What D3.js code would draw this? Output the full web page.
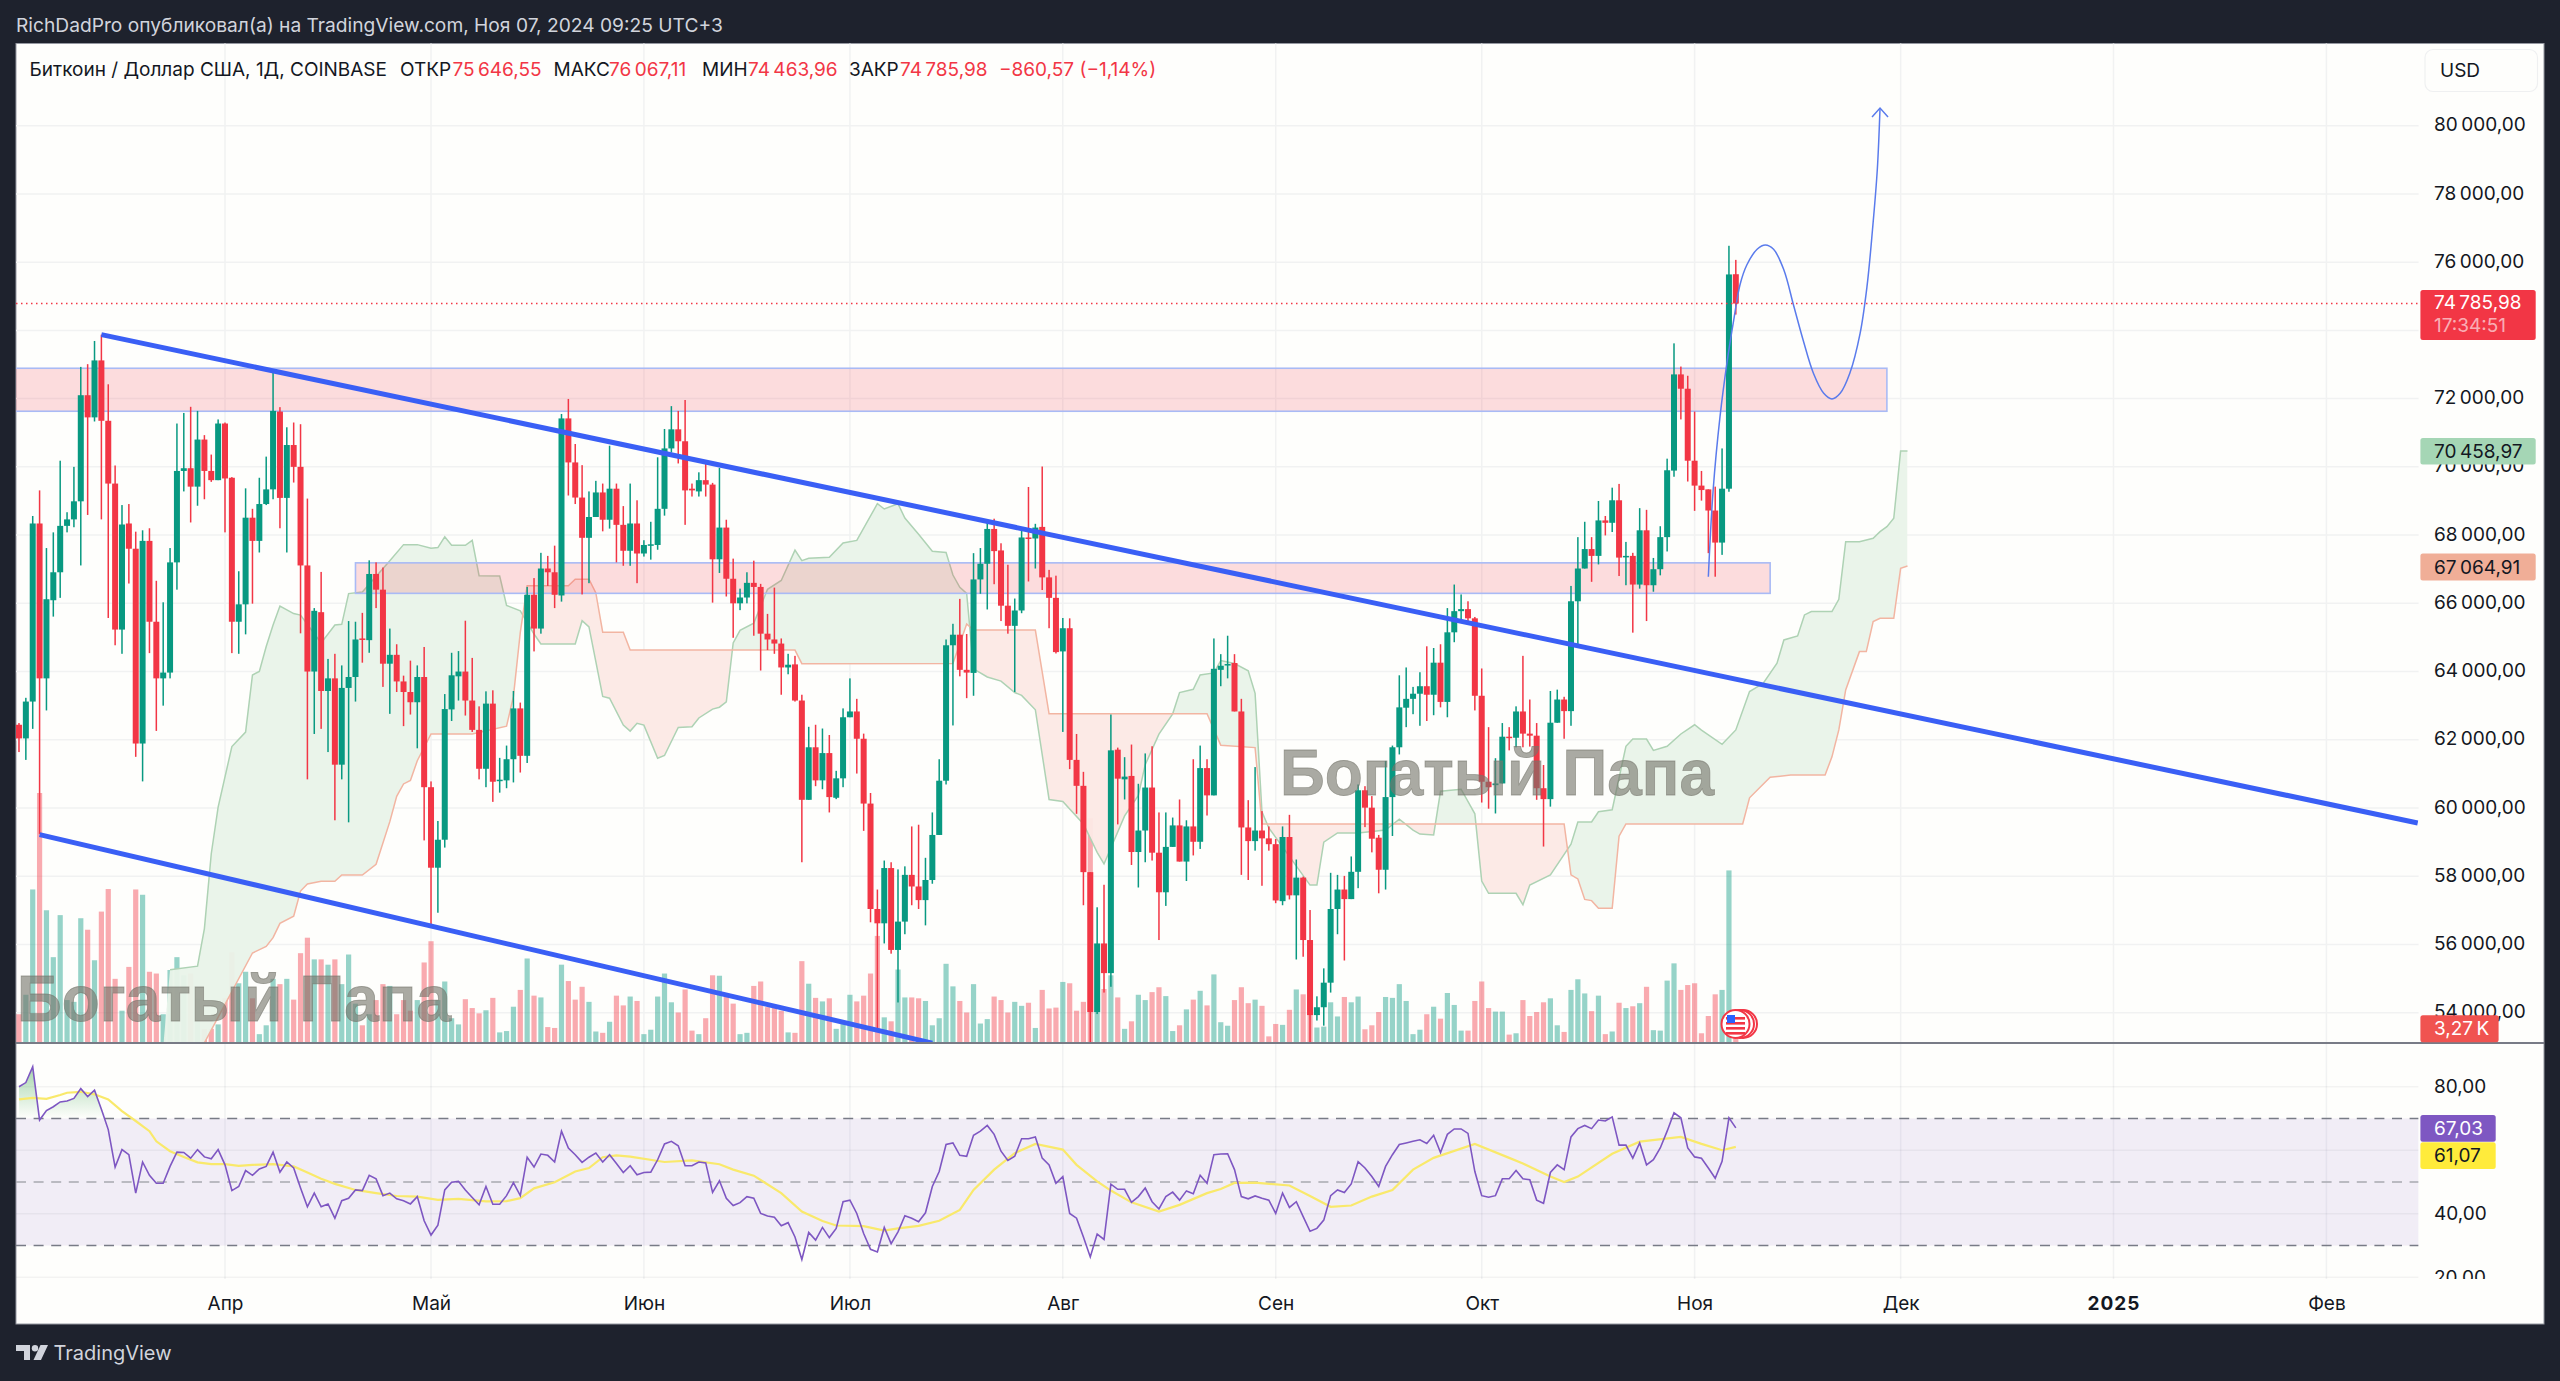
<!DOCTYPE html>
<html lang="ru">
<head>
<meta charset="utf-8">
<title>BTCUSD</title>
<script src="https://cdnjs.cloudflare.com/ajax/libs/d3/7.9.0/d3.min.js"></script>
<style>
  html, body { margin: 0; padding: 0; background: #1e222d; overflow: hidden; }
  svg { display: block; font-family: Inter, "Noto Sans", sans-serif; }
</style>
</head>
<body>
<div id="chart"></div>
<script>
// daily candles, first one is 2 Mar 2024, one value per day
const firstDay = Date.UTC(2024, 2, 2);
const opens = [
  62440,62040,63120,68340,63800,66090,66910,68270,68460,68990,
  72100,71450,73120,71350,69510,65230,68340,67600,61890,67830,
  65460,63800,63970,67200,69880,69960,69420,70800,69880,69610,
  71270,69680,65460,65970,68510,67830,68910,69340,71620,69090,
  70640,70000,67110,64000,65740,63430,63800,61270,63520,63840,
  64970,64920,66860,66400,64230,64490,63710,63400,63100,63840,
  60610,58250,59070,62890,63860,64000,63150,62290,61150,63060,
  60810,60810,61430,62920,61530,66250,65260,67020,66910,66230,
  71420,70130,69100,67920,68530,69250,68450,69360,68300,67540,
  68340,67460,67710,67710,68770,70540,71100,70750,69360,69280,
  69610,69480,67290,68220,66720,66000,66170,66600,66480,65110,
  64940,64820,64120,64210,63150,60240,61780,60810,61610,60300,
  60870,62660,62830,62030,60130,57040,56620,58240,55840,56670,
  58040,57700,57300,57890,59210,60800,64770,65080,64050,63960,
  66700,67160,68180,67550,65930,65340,65790,67930,67900,68240,
  66760,66160,64590,65270,61410,60650,58120,54020,56030,55160,
  61710,60840,60940,58710,59340,60600,58690,57530,58860,59490,
  58430,59460,59010,61170,60370,64050,64190,64250,62830,59430,
  59030,59340,59110,58940,57270,59150,57440,57960,56130,53930,
  54160,54880,57040,57610,57330,58130,60520,60010,59130,58190,
  60320,61780,62940,63200,63350,63570,63320,64260,63110,65150,
  65770,65830,65560,63290,60770,60670,60720,62090,62060,62830,
  62180,62120,60580,60260,62500,63180,62840,66060,67020,67590,
  67390,68430,68360,69020,67370,67390,66550,68140,66530,67000,
  67940,69890,72710,72290,70180,69450,69340,68720,67780,69360,
  75646.55
];
const highs = [
  62490,63230,68560,69310,67620,68080,70180,68670,70000,72930,
  73010,73690,73875,72420,70040,68880,68910,68100,68140,68200,
  66660,66030,67620,71270,71580,71760,71640,70930,70360,71390,
  71300,69700,66940,69370,68770,69680,70300,72760,71750,71160,
  71300,71250,69070,65860,66920,64370,64520,64180,65480,65460,
  65720,67260,67200,67050,65260,64800,63880,64320,64180,64720,
  60780,59620,63340,64550,64600,65490,64400,62980,63420,63450,
  61470,61830,63430,63090,66480,66740,67480,67390,67690,71550,
  71990,70670,70050,69280,69590,69510,70620,69510,68850,69510,
  69020,67850,68390,70280,71110,71780,71640,71960,69510,69840,
  70160,69530,69970,68450,67310,66430,66910,67250,66570,65690,
  66460,64970,64520,64460,63320,62380,62440,62330,62140,61090,
  62920,63800,63200,62180,60440,57610,58460,58410,58200,58290,
  59460,59510,58540,59870,61430,64940,65400,66130,65100,67470,
  67620,68390,68480,67760,67130,66140,68220,69410,68330,70010,
  66980,66810,65570,65560,62170,61060,58120,57090,57750,62740,
  61770,61490,61860,60710,61600,61810,59870,59870,59720,60250,
  59640,61430,61830,61430,64970,64510,65050,64510,63200,60230,
  61200,59910,59460,59090,59460,59800,58490,57990,57010,54480,
  55300,58100,58040,58010,58580,60690,60640,60350,59210,61380,
  61830,63890,64120,63550,63980,64740,64690,64800,65860,66550,
  66260,66060,65600,64090,62370,61460,62490,62370,62980,64460,
  63180,62490,61260,63430,63470,63260,66510,67940,68390,67940,
  69000,68560,69390,69500,67800,67480,68790,68740,67330,68260,
  70240,73620,72940,72670,71620,69880,69340,69420,70540,76480,
  76067.11
];
const lows = [
  61640,61410,62320,59240,62860,65610,66160,68080,68230,67110,
  68590,71330,68460,65570,64770,64520,66580,61500,60780,64540,
  62260,63000,63800,66400,69280,68370,68860,69050,69560,69610,
  68080,64540,64520,65090,65990,67490,68880,69050,68200,67490,
  69540,65120,60840,62170,62320,61640,59640,60840,59580,63120,
  64260,64550,65860,63550,62760,63400,62400,62740,61750,59050,
  56500,56930,58840,62550,63150,62710,62230,60840,60610,60180,
  60450,60580,60750,61040,61320,64590,65110,66510,65860,66050,
  69160,68910,66260,66590,68530,68110,68190,67200,67100,67100,
  66590,67370,67280,67570,68570,70420,70100,68300,69130,69130,
  69130,66020,66890,66200,64990,65800,66000,65050,64030,64630,
  64520,63320,63920,63120,58410,60240,60640,60550,59870,60260,
  60610,62660,61010,59330,56650,53500,56030,55730,54300,56300,
  57150,57040,56560,57780,59210,60690,62420,63860,63220,63290,
  66280,65820,66560,65480,65110,63400,65710,66640,67020,66390,
  65270,64530,62230,61140,59830,57150,53000,53960,54590,54760,
  59520,60250,58330,57670,58410,58460,56130,57130,58860,58430,
  57860,58610,58800,59780,60370,63570,63800,62830,58040,57890,
  58750,57720,58750,57210,57150,57320,55560,55640,52950,53770,
  53620,54590,56300,55530,57330,57650,59440,58700,57500,57610,
  59180,61570,62370,62750,62410,62550,62720,62950,62660,64860,
  65480,65430,62860,60160,59980,59840,60720,61690,61780,61780,
  61800,60240,58870,60040,62500,62030,62410,64800,67020,66630,
  67140,67990,68090,66800,66530,65140,66430,65480,66340,66820,
  67520,69710,71390,69570,68710,69010,67470,66780,67420,69270,
  74463.96
];
const closes = [
  62040,63120,68340,63800,66120,66910,68270,68460,68990,72100,
  71450,73120,71350,69510,65230,68310,67600,61890,67830,65460,
  63800,63970,67200,69880,69960,69420,70800,69880,69610,71270,
  69660,65460,65970,68510,67830,68910,69340,71640,69090,70640,
  70000,67110,64000,65780,63430,63800,61270,63520,63840,64940,
  64930,66860,66400,64230,64490,63710,63400,63100,63840,60610,
  58250,59070,62900,63890,64000,63150,62290,61150,63060,60770,
  60830,61430,62920,61530,66250,65260,67020,66910,66250,71420,
  70130,69100,67920,68530,69250,68450,69360,68300,67540,68340,
  67460,67710,67730,68770,70540,71100,70750,69310,69310,69610,
  69480,67290,68220,66720,66000,66170,66600,66480,65110,64940,
  64820,64120,64200,63150,60240,61780,60810,61610,60320,60870,
  62660,62830,62030,60130,57040,56620,58240,55840,56670,58040,
  57700,57300,57890,59210,60800,64770,65080,64050,63970,66700,
  67160,68180,67530,65930,65340,65790,67930,67900,68220,66760,
  66160,64570,65270,61410,60650,58120,54020,56030,55160,61690,
  60860,60920,58710,59340,60600,58690,57530,58860,59490,58430,
  59460,59010,61170,60370,64080,64170,64220,62830,59430,59030,
  59340,59110,58940,57290,59150,57440,57960,56130,53930,54160,
  54880,57040,57610,57330,58130,60520,60010,59100,58190,60320,
  61780,62950,63200,63350,63570,63320,64260,63110,65150,65770,
  65830,65560,63290,60770,60610,60720,62090,62060,62830,62180,
  62120,60580,60260,62500,63180,62840,66060,67020,67590,67390,
  68430,68360,69020,67340,67390,66550,68140,66530,67000,67940,
  69900,72710,72290,70180,69450,69320,68720,67780,69360,75640,
  74785.98
];
// volume, thousands of BTC
const volumes = [
  6.5,10.9,34.7,56.5,30,19.4,28.9,9.7,9.3,28.2,
  25.6,18.7,29.7,34.8,14.5,7.3,17.2,34.7,33.5,16.1,
  15.7,6.5,16.5,19.4,15.3,15.7,10.1,3.2,3.2,4.2,
  10.1,20.5,13.5,16.1,10.1,2,4,14.5,13.3,14.5,
  9.8,20.3,23.8,18.9,18.9,17.7,18.9,13.3,20,8.9,
  4,6.5,9.7,13.3,12.9,6.5,9.7,7.3,9.7,18.2,
  23,9.7,13.9,5.6,4.2,9.9,7.9,6.7,7.4,10.2,
  2.4,2.7,8.2,12,19.1,10.7,10.3,3.6,3.4,17.7,
  14,9.8,12.7,9.3,2.6,2.3,4.8,10.7,8.5,10.5,
  9.5,2,3,10.5,15.7,9.2,6.9,12.1,2.8,2,
  5.6,15.3,15.2,10.5,8.9,2,2.3,12.9,13.9,8.1,
  8.1,7.3,2.4,2.3,18.5,13.4,10.2,9.4,10.1,3.2,
  4.8,10.9,9.4,10.7,15.7,24.2,5.8,4.9,16.6,10.3,
  10.3,10.1,9.5,4,5.6,17.9,12.8,9.5,6.9,13.3,
  4.4,5.4,10.5,9.7,6.9,9.3,8.4,9.1,3.4,12,
  7.8,8,13.8,13.5,7.3,9.3,50.8,7.4,12.2,15.3,
  10.3,3.2,4.9,10.9,9.7,11.5,12.6,10.6,2.7,4,
  7.6,9.8,11.8,8.5,15.5,4.7,3.9,9.7,12.6,9,
  9.8,8.4,1.5,4.3,4.1,7.5,12.1,11,10.5,3.5,
  3.7,9.2,6,10.4,9.2,10.5,3.1,4,7,10.4,
  10.2,13.3,9.5,2,3,6.5,8.2,5.5,11.3,8.6,
  2.8,2.8,9.5,13.9,7.9,7.1,7.1,1.9,2.2,9.7,
  6.1,7,9.2,10.1,4,2.5,12,14.4,11.2,7.2,
  10.7,2,2.6,9.1,7.9,8.3,9,12.7,2.9,2.8,
  14.1,18,12,13.1,13.5,2.2,6.1,11,12,39,
  3.27
];
const rsiValues = [
  80,81.3,86.3,69.5,72.5,73.7,75.2,75.5,76.3,79.4,
  76.9,78.9,72.9,66.5,54.7,60.2,58.6,46.5,56.3,52.1,
  49.6,49.6,54.9,59.4,59.3,57.5,60.2,57.9,57.3,60.2,
  55.4,47.3,48.6,53.6,52.1,54.1,54.9,59.4,53.1,56.3,
  54.4,48.1,42.2,46.5,42.2,43.1,38.6,44.1,44.9,47.5,
  47.3,52.1,51,45.7,46.5,44.7,44.1,43.1,45.4,37.8,
  33.3,36.4,47.5,49.9,50.2,47.5,45.1,42.8,48.6,43,
  43,45.7,49.8,45.7,57.8,54.7,58.8,58.4,56.3,66,
  60.7,58.6,56.2,57.8,59.1,56.3,58.6,55.8,53,55.1,
  52.3,53,53.1,57,62,62.8,61.4,55.1,55.1,56.3,
  56,46.7,50.4,44.9,42.6,43.5,45.4,44.9,40.1,39.3,
  38.9,36.2,37.2,32.7,25.6,34.1,31.7,35.7,32.5,35.4,
  43.8,44.3,40.1,33.8,28.8,28,35.7,30.6,34.3,39.4,
  38.6,37.5,40.3,48.6,53.3,61.8,62.3,58.4,58.1,64.7,
  66,67.8,65,59.7,56.8,58.1,63.6,63.6,64.2,57.5,
  55.4,49.6,51.7,40.1,38.6,32.7,26.4,33.6,31.9,49.3,
  47.7,47.7,43.6,45.4,48.1,43.8,41.5,45.4,46.8,44.3,
  47.2,46.3,52.1,49.6,58.6,58.8,58.9,53.9,45.4,44.7,
  45.6,44.9,44.3,40.1,46.5,42,43.8,39.1,34.5,35.4,
  38,45.7,47.5,46.7,49.4,56.4,54.4,51.7,48.6,54.9,
  58.6,61.8,62.3,62.8,63.3,62.1,64.7,59.3,65,66.7,
  66.7,65.3,53.3,45.7,45.2,45.7,51,51,53.6,51,
  50.7,44.3,43.3,53,55.4,53.9,64.2,66.8,67.8,66.8,
  69.5,69.2,70.5,61.6,61.6,57.5,62.3,55.4,57,60.7,
  66,71.8,70.2,60.7,57.9,57.5,54.4,51.2,56.5,70.2,
  67.03
];
// RSI moving average, read at these day numbers
const rsiMaDays = [0,2,4,6,7,9,11,13,15,17,19,20,22,24,26,28,30,32,34,37,40,42,44,46,49,52,55,58,61,64,68,71,73,75,78,81,83,85,87,89,94,98,102,104,107,111,114,117,119,123,126,128,131,134,137,139,142,145,148,152,154,157,159,162,166,169,173,175,177,180,185,188,191,194,197,200,203,206,212,217,219,223,225,227,232,236,242,245,248,250];
const rsiMaValues = [76,76.5,76.2,77.4,78.1,78.4,77.6,76,72.3,69.2,66,62.8,59.7,57.9,56.2,55.6,55.6,55.1,55.4,55.6,54.9,53,51,49.4,47.5,46.5,45.6,45.4,44.4,44.7,43.9,44,44.9,48,49.9,53.3,54.4,57.8,58.4,58,56.3,56.8,55.6,53.9,52,46.5,40.7,37.7,36.3,36.1,34.7,35.4,36.2,37.8,41.2,47.5,53.9,59.1,62,60.2,55.4,50.2,47.3,43.6,40.7,42.8,46.5,47.8,49.7,49.8,48.9,45.6,42.2,42.6,45.4,47.5,53.9,57.6,62,57.6,55.8,51.7,50,51.7,58.9,62.7,64.2,62,60,61.07];
// ichimoku cloud edges
const spanADays = [21,22,26,27,28,29,31,33,34,35,36,37,38,40,41,44,46,47,48,50,54,56,58,60,61,62,63,65,66,67,70,71,73,75,76,81,82,83,85,86,88,89,90,91,93,94,96,98,99,101,102,103,104,105,107,109,111,113,114,115,118,120,122,125,126,128,129,131,133,135,136,137,138,139,141,143,145,146,148,150,152,155,157,158,161,163,164,166,168,169,171,172,174,175,177,179,180,181,182,188,189,190,192,195,199,201,203,204,206,207,210,212,213,214,218,219,220,223,226,227,229,230,232,234,235,237,238,240,242,244,245,248,250,252,254,256,257,259,260,261,264,265,266,268,270,271,272,273,274,275];
const spanAValues = [53000,55260,55365,56465,58660,60025,61800,62225,63900,64000,64735,65365,65920,65700,65655,64840,65365,65385,66285,66330,67250,67720,67720,67615,67635,67950,67700,67700,67845,66810,66800,65940,65780,65100,64810,64810,65490,65310,63270,63220,62430,62255,62485,62430,61460,61540,62360,62380,62640,62900,62955,63110,64840,65210,65420,66410,66670,67560,67250,67320,67350,67770,67845,68920,68765,68920,68500,68025,67525,67490,66830,66470,66290,64080,63840,63720,63385,63300,62880,60250,60190,59530,58700,58360,59770,60370,61270,62165,62760,63385,63480,63900,63960,64320,64235,64020,63360,59890,59415,57740,57740,59000,59270,59270,59355,59670,59350,59235,59210,60490,60550,59830,57860,57500,57500,57165,57740,58040,58940,59590,59590,59890,59950,61810,62020,62020,61690,61810,62170,62440,62285,61865,62288,63412,63656,64242,64926,65043,65659,65757,65757,66118,67808,67808,67906,68101,68248,68492,70465,70465];
const spanBDays = [21,27,34,36,37,38,40,41,42,44,46,47,50,52,54,55,56,57,58,60,66,71,72,73,74,80,81,83,84,85,88,89,113,114,136,138,139,148,150,173,175,180,181,225,226,227,228,229,230,232,233,234,251,252,255,258,263,264,265,266,268,269,270,271,273,274,275];
const spanBValues = [52000,53115,55750,55940,56200,56620,56830,57565,57775,57855,57855,58035,58035,58350,59600,60340,60705,60810,61385,62170,62170,62400,63270,65150,66515,66515,66705,66705,66305,65155,65155,64630,64630,64230,64234,65394,65215,65215,62763,62763,61842,61770,59534,59534,58039,57920,57320,57285,57060,57060,59175,59534,59534,60300,60900,60970,60970,61500,62288,63460,64584,64584,65463,65561,65561,67026,67095];
// drawings: [day, price]
const trendUpper = [[12, 73875], [349.3, 59562]];
const trendLower = [[3, 59220], [133, 53110]];
const zones = [
  { from: -10, to: 272, top: 72890, bottom: 71630 },
  { from: 49, to: 255, top: 67186, bottom: 66292 },
];
const forecastDays = [246,246.7,247.7,248.7,249.7,250.6,251.6,253.1,254.3,255.5,257,258.4,259.8,261.3,262.8,264,265.2,266.6,268.1,269.1,269.9,270.6,271];
const forecastPrices = [66781,69322,71471,73036,74305,75331,75917,76377,76503,76377,75770,74745,73719,72744,72157,71990,72157,72744,73915,75281,76943,78700,80518];

const priceTicks = [54000,56000,58000,60000,62000,64000,66000,68000,70000,72000,74000,76000,78000,80000];
// 74 000 has no label on the axis, the last price box sits there
const priceLabelTicks = [54000,56000,58000,60000,62000,64000,66000,68000,70000,72000,76000,78000,80000];
const rsiTicks = [20,40,60,80];
const monthTicks = [
  [Date.UTC(2024,3,1),'Апр'],[Date.UTC(2024,4,1),'Май'],[Date.UTC(2024,5,1),'Июн'],[Date.UTC(2024,6,1),'Июл'],
  [Date.UTC(2024,7,1),'Авг'],[Date.UTC(2024,8,1),'Сен'],[Date.UTC(2024,9,1),'Окт'],[Date.UTC(2024,10,1),'Ноя'],
  [Date.UTC(2024,11,1),'Дек'],[Date.UTC(2025,0,1),'2025'],[Date.UTC(2025,1,1),'Фев'],
];

const W = 2560, H = 1381;
const panel = { left: 16, right: 2544, top: 43.5, bottom: 1324 };
const chartRight = 2418.6, mainBottom = 1043, rsiBottom = 1279;
const green = '#089981', red = '#f23645';

const svg = d3.select('#chart').append('svg').attr('width', W).attr('height', H);
const fmt = d3.formatLocale({ decimal: ',', thousands: '\u202f', grouping: [3], currency: ['', ''] }).format(',.2f');
const dayMs = 86400000;
const x = d3.scaleUtc([Date.UTC(2024,3,1), Date.UTC(2025,1,1)], [225, 2326.4]);
const xDay = (i) => x(firstDay + i * dayMs);
const y = d3.scaleLinear([54000, 80000], [1012.7, 125.7]);
const yRsi = d3.scaleLinear([20, 80], [1277.3, 1086.7]);
const yVol = d3.scaleLinear([0, 56.5], [mainBottom, mainBottom - 250]);

const defs = svg.append('defs');
defs.append('clipPath').attr('id', 'mainClip').append('rect')
  .attr('x', panel.left).attr('y', panel.top).attr('width', chartRight - panel.left).attr('height', mainBottom - panel.top);
defs.append('clipPath').attr('id', 'rsiClip').append('rect')
  .attr('x', panel.left).attr('y', mainBottom).attr('width', chartRight - panel.left).attr('height', rsiBottom - mainBottom);

// panel
svg.append('rect').attr('width', W).attr('height', H).attr('fill', '#1e222d');
svg.append('rect')
  .attr('x', panel.left).attr('y', panel.top)
  .attr('width', panel.right - panel.left).attr('height', panel.bottom - panel.top)
  .attr('fill', '#fefefc').attr('stroke', '#9598a1').attr('stroke-width', 1);

// grid
const grid = svg.append('g').attr('stroke', '#f1f2f2').attr('stroke-width', 1.5);
grid.selectAll('line.h').data(priceTicks).enter().append('line')
  .attr('x1', panel.left).attr('x2', chartRight).attr('y1', (d) => y(d)).attr('y2', (d) => y(d));
grid.selectAll('line.v').data(monthTicks).enter().append('line')
  .attr('x1', (d) => x(d[0])).attr('x2', (d) => x(d[0])).attr('y1', panel.top).attr('y2', rsiBottom);

// volume
const main = svg.append('g').attr('clip-path', 'url(#mainClip)');
main.append('g').selectAll('rect').data(volumes).enter().append('rect')
  .attr('x', (d, i) => xDay(i) - 2.6).attr('width', 5.2)
  .attr('y', (d) => yVol(d)).attr('height', (d) => mainBottom - yVol(d))
  .attr('fill', (d, i) => (closes[i] >= opens[i] ? green : red))
  .attr('opacity', 0.42);

// cloud
const pointsA = spanADays.map((d, i) => [xDay(d), y(spanAValues[i])]);
const pointsB = spanBDays.map((d, i) => [xDay(d), y(spanBValues[i])]);
const polyLine = d3.line();
const cloudPath = polyLine(pointsA.concat(pointsB.slice().reverse())) + 'Z';
const topEdge = [[pointsB[pointsB.length - 1][0], panel.top - 500], [pointsB[0][0], panel.top - 500]];
const bottomEdge = [[pointsB[pointsB.length - 1][0], mainBottom + 500], [pointsB[0][0], mainBottom + 500]];
defs.append('clipPath').attr('id', 'aboveB').append('path').attr('d', polyLine(pointsB.concat(topEdge)) + 'Z');
defs.append('clipPath').attr('id', 'belowB').append('path').attr('d', polyLine(pointsB.concat(bottomEdge)) + 'Z');
main.append('g').attr('clip-path', 'url(#aboveB)').append('path').attr('d', cloudPath).attr('fill', '#e9f3e9').attr('fill-opacity', 0.95);
main.append('g').attr('clip-path', 'url(#belowB)').append('path').attr('d', cloudPath).attr('fill', '#fce9e5').attr('fill-opacity', 0.95);
main.append('path').attr('d', polyLine(pointsA.slice(1))).attr('fill', 'none').attr('stroke', '#aed2b4').attr('stroke-width', 1.5);
main.append('path').attr('d', polyLine(pointsB.slice(1))).attr('fill', 'none').attr('stroke', '#f2b5a2').attr('stroke-width', 1.5);

// zones
main.append('g').selectAll('rect').data(zones).enter().append('rect')
  .attr('x', (d) => xDay(d.from)).attr('width', (d) => xDay(d.to) - xDay(d.from))
  .attr('y', (d) => y(d.top)).attr('height', (d) => y(d.bottom) - y(d.top))
  .attr('fill', 'rgba(242,54,69,0.17)').attr('stroke', '#a9baf5').attr('stroke-width', 1.6);

// candles
const candles = main.append('g').selectAll('g').data(closes).enter().append('g')
  .attr('fill', (d, i) => (d >= opens[i] ? green : red));
candles.append('rect')
  .attr('x', (d, i) => xDay(i) - 0.75).attr('width', 1.5)
  .attr('y', (d, i) => y(highs[i])).attr('height', (d, i) => y(lows[i]) - y(highs[i]));
candles.append('rect')
  .attr('x', (d, i) => xDay(i) - 3).attr('width', 6)
  .attr('y', (d, i) => y(Math.max(d, opens[i])))
  .attr('height', (d, i) => Math.max(1.5, Math.abs(y(d) - y(opens[i]))));

// drawings
const lineDay = d3.line().x((d) => xDay(d[0])).y((d) => y(d[1]));
main.selectAll('path.trend').data([trendUpper, trendLower]).enter().append('path')
  .attr('d', lineDay).attr('fill', 'none').attr('stroke', '#3a5ff5').attr('stroke-width', 5);
const forecast = forecastDays.map((d, i) => [d, forecastPrices[i]]);
main.append('path')
  .attr('d', d3.line().x((d) => xDay(d[0])).y((d) => y(d[1])).curve(d3.curveCatmullRom)(forecast))
  .attr('fill', 'none').attr('stroke', '#5a7bec').attr('stroke-width', 1.5);
const tip = forecast[forecast.length - 1];
main.append('path')
  .attr('d', `M${xDay(tip[0]) - 8},${y(tip[1]) + 9}L${xDay(tip[0])},${y(tip[1])}L${xDay(tip[0]) + 8},${y(tip[1]) + 9}`)
  .attr('fill', 'none').attr('stroke', '#5a7bec').attr('stroke-width', 1.5);

// last price line
const lastClose = closes[closes.length - 1];
svg.append('line')
  .attr('x1', panel.left).attr('x2', chartRight).attr('y1', y(lastClose)).attr('y2', y(lastClose))
  .attr('stroke', red).attr('stroke-width', 1.5).attr('stroke-dasharray', '1.5 3.5');

// watermarks
const watermarks = svg.append('g').attr('clip-path', 'url(#mainClip)');
watermarks.selectAll('text').data([[17, 1021], [1280, 795]]).enter().append('text')
  .attr('x', (d) => d[0]).attr('y', (d) => d[1])
  .attr('textLength', 434).attr('lengthAdjust', 'spacingAndGlyphs')
  .attr('font-family', '"Liberation Sans", Arial, sans-serif').attr('font-weight', 700).attr('font-size', 65)
  .attr('stroke', 'rgba(118,118,108,0.62)').attr('stroke-width', 0.8)
  .attr('fill', 'rgba(118,118,108,0.62)').text('Богатый Папа');

// earnings marker
const marker = svg.append('g').attr('clip-path', 'url(#mainClip)');
[1743, 1740, 1735.5].forEach((cx) => {
  marker.append('circle').attr('cx', cx).attr('cy', 1024).attr('r', 14)
    .attr('fill', '#fff').attr('stroke', red).attr('stroke-width', 2);
});
[1017, 1022, 1027, 1032].forEach((sy) => {
  marker.append('rect').attr('x', 1726).attr('y', sy).attr('width', 19).attr('height', 2.6).attr('fill', red);
});
marker.append('rect').attr('x', 1727).attr('y', 1015).attr('width', 8).attr('height', 8).attr('fill', '#2962ff');

// RSI
const rsiPane = svg.append('g').attr('clip-path', 'url(#rsiClip)');
rsiPane.append('rect')
  .attr('x', panel.left).attr('width', chartRight - panel.left)
  .attr('y', yRsi(70)).attr('height', yRsi(30) - yRsi(70))
  .attr('fill', 'rgba(126,87,194,0.1)');
rsiPane.selectAll('line.grid').data(rsiTicks).enter().append('line')
  .attr('x1', panel.left).attr('x2', chartRight).attr('y1', (d) => yRsi(d)).attr('y2', (d) => yRsi(d))
  .attr('stroke', 'rgba(60,60,80,0.06)').attr('stroke-width', 1.5);
rsiPane.selectAll('line.level').data([70, 50, 30]).enter().append('line')
  .attr('x1', panel.left).attr('x2', chartRight).attr('y1', (d) => yRsi(d)).attr('y2', (d) => yRsi(d))
  .attr('stroke', (d) => (d === 50 ? '#a8a9b0' : '#787b86')).attr('stroke-width', 1.5).attr('stroke-dasharray', '10 7.6');
const overGrad = defs.append('linearGradient').attr('id', 'overGrad')
  .attr('gradientUnits', 'userSpaceOnUse').attr('x1', 0).attr('x2', 0).attr('y1', yRsi(86)).attr('y2', yRsi(70));
overGrad.append('stop').attr('offset', 0).attr('stop-color', '#5fb56c').attr('stop-opacity', 0.55);
overGrad.append('stop').attr('offset', 1).attr('stop-color', '#5fb56c').attr('stop-opacity', 0);
rsiPane.append('path')
  .attr('d', d3.area().x((d, i) => xDay(i)).y0(yRsi(70)).y1((d) => Math.min(yRsi(d), yRsi(70)))(rsiValues.slice(0, 14)))
  .attr('fill', 'url(#overGrad)');
rsiPane.append('path')
  .attr('d', d3.line().x((d, i) => xDay(rsiMaDays[i])).y((d) => yRsi(d))(rsiMaValues))
  .attr('fill', 'none').attr('stroke', '#f9e96b').attr('stroke-width', 2.2);
rsiPane.append('path')
  .attr('d', d3.line().x((d, i) => xDay(i)).y((d) => yRsi(d))(rsiValues))
  .attr('fill', 'none').attr('stroke', '#7e57c2').attr('stroke-width', 1.6);

// separator
svg.append('line').attr('x1', panel.left).attr('x2', panel.right).attr('y1', mainBottom).attr('y2', mainBottom)
  .attr('stroke', '#787b86').attr('stroke-width', 2);

// axes
const textColor = '#131722';
const priceAxis = svg.append('g').attr('transform', `translate(2434,-1)`)
  .call(d3.axisRight(y).tickValues(priceLabelTicks).tickFormat(fmt).tickSize(0).tickPadding(0));
defs.append('clipPath').attr('id', 'rsiAxisClip').append('rect')
  .attr('x', 2420).attr('y', mainBottom).attr('width', 120).attr('height', rsiBottom - mainBottom);
const rsiAxis = svg.append('g').attr('clip-path', 'url(#rsiAxisClip)').append('g').attr('transform', `translate(2434,0)`)
  .call(d3.axisRight(yRsi).tickValues(rsiTicks).tickFormat(d3.formatLocale({ decimal: ',', thousands: '', grouping: [3], currency: ['', ''] }).format('.2f')).tickSize(0).tickPadding(0));
const timeAxis = svg.append('g').attr('transform', `translate(0,1296)`)
  .call(d3.axisBottom(x).tickValues(monthTicks.map((d) => new Date(d[0])))
    .tickFormat((d, i) => monthTicks[i][1]).tickSize(0).tickPadding(0));
[priceAxis, rsiAxis, timeAxis].forEach((a) => {
  a.select('.domain').remove();
  a.selectAll('text').attr('font-family', 'Inter, "Noto Sans", sans-serif').attr('font-size', 19).attr('fill', textColor);
});
timeAxis.selectAll('text').filter((d, i) => monthTicks[i][1] === '2025').attr('font-weight', 700).attr('letter-spacing', 1);

// price labels
function label(x0, width, y0, height, fill, color, txt, sub) {
  const g = svg.append('g');
  g.append('rect').attr('x', x0).attr('y', y0).attr('width', width).attr('height', height).attr('rx', 2.5).attr('fill', fill);
  g.append('text').attr('x', 2434).attr('y', sub ? y0 + 12.5 : y0 + height / 2)
    .attr('dominant-baseline', 'central').attr('font-size', 19).attr('fill', color).text(txt);
  if (sub) {
    g.append('text').attr('x', 2434).attr('y', y0 + 35.5).attr('dominant-baseline', 'central')
      .attr('font-size', 19).attr('fill', 'rgba(255,255,255,0.62)').text(sub);
  }
}
label(2420.4, 115.3, y(lastClose) - 13.6, 50, red, '#fff', fmt(lastClose), '17:34:51');
label(2420.4, 115.3, 438, 26.6, '#a5d6b5', textColor, fmt(70458.97));
label(2420.4, 115.3, 553.6, 26.9, '#f0ae97', textColor, fmt(67064.91));
label(2420.4, 78.2, 1015.3, 27, '#f05350', '#fff', '3,27\u202fK');
label(2420.4, 75.3, 1115, 26.7, '#7e57c2', '#fff', '67,03');
label(2420.4, 75.3, 1142.3, 26.7, '#ffeb3b', textColor, '61,07');

// USD button
svg.append('rect').attr('x', 2425).attr('y', 49.5).attr('width', 112.5).attr('height', 42).attr('rx', 8)
  .attr('fill', '#fefefc').attr('stroke', '#eff0f1').attr('stroke-width', 1.2);
svg.append('text').attr('x', 2440).attr('y', 70.5).attr('dominant-baseline', 'central')
  .attr('font-size', 19).attr('fill', textColor).text('USD');

// legend
const legendParts = [
  ['Биткоин / Доллар США, 1Д, COINBASE', textColor, 29.5], ['ОТКР', textColor, 400], ['75\u202f646,55', red, 452.5],
  ['МАКС', textColor, 553.6], ['76\u202f067,11', red, 609], ['МИН', textColor, 702], ['74\u202f463,96', red, 748],
  ['ЗАКР', textColor, 849], ['74\u202f785,98', red, 900], ['\u2212860,57 (\u22121,14%)', red, 999],
];
svg.append('g').selectAll('text').data(legendParts).enter().append('text')
  .attr('x', (d) => d[2]).attr('y', 69).attr('dominant-baseline', 'central').attr('font-size', 19)
  .attr('fill', (d) => d[1]).text((d) => d[0]);

// header and footer
svg.append('text').attr('x', 16).attr('y', 25).attr('dominant-baseline', 'central')
  .attr('font-size', 19.2).attr('fill', '#d1d4dc')
  .text('RichDadPro опубликовал(а) на TradingView.com, Ноя 07, 2024 09:25 UTC+3');
const logo = svg.append('g').attr('fill', '#d1d4dc');
logo.append('path').attr('d', 'M16,1345H30V1360H24V1351H16Z');
logo.append('circle').attr('cx', 35).attr('cy', 1348.2).attr('r', 3.2);
logo.append('path').attr('d', 'M40.5,1345H48L41,1360H33.5Z');
svg.append('text').attr('x', 53.5).attr('y', 1353).attr('dominant-baseline', 'central')
  .attr('font-size', 20).attr('fill', '#d1d4dc').text('TradingView');
</script>
</body>
</html>
